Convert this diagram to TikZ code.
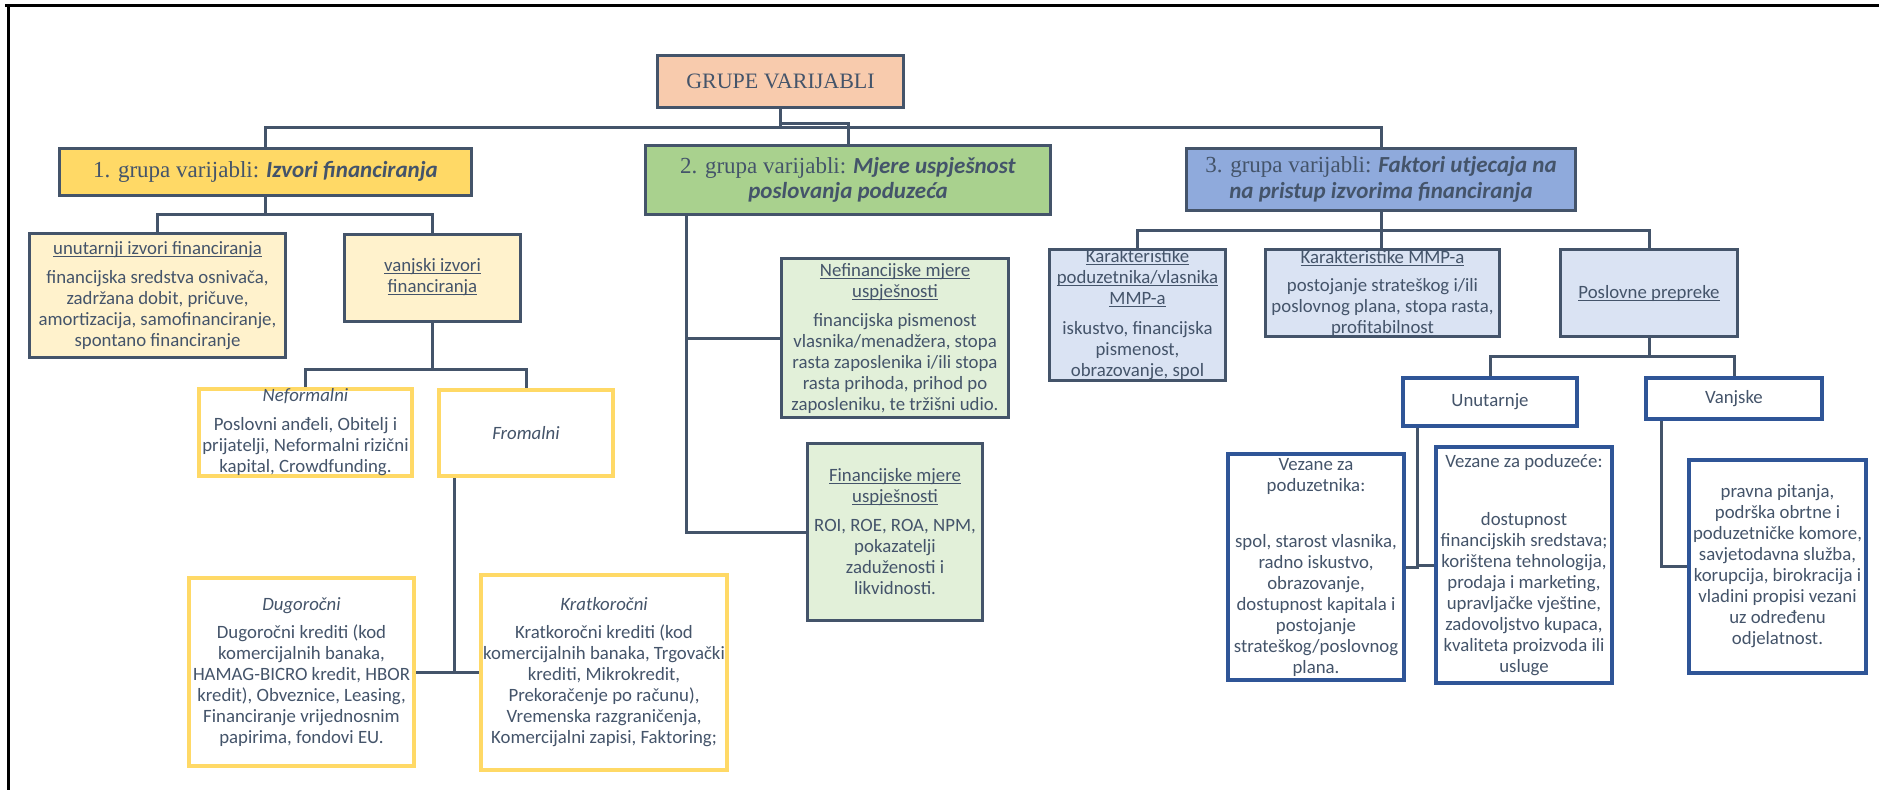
\documentclass[tikz,border=0pt]{standalone}
\usepackage{fontspec}
\setmainfont{Carlito}
\newfontfamily\serif{Liberation Serif}
\usetikzlibrary{calc}
\definecolor{txt}{HTML}{44546A}
\definecolor{bordc}{HTML}{44546A}
\definecolor{peach}{HTML}{F8CBAD}
\definecolor{gold}{HTML}{FFD966}
\definecolor{grn}{HTML}{A9D18E}
\definecolor{blu}{HTML}{8FAADC}
\definecolor{lyel}{HTML}{FFF2CC}
\definecolor{lgrn}{HTML}{E2F0D9}
\definecolor{lblu}{HTML}{DAE3F3}
\definecolor{dblu}{HTML}{2F5597}
\newcommand\myul[1]{\setbox0\hbox{#1}\rlap{\rule[-2.4pt]{\wd0}{0.9pt}}\box0}
\begin{document}
\begin{tikzpicture}[x=1pt,y=-1pt,
  base/.style={inner sep=0pt, align=center, text=txt, font=\fontsize{18.8}{21}\selectfont},
  dbox/.style={base, draw=bordc, line width=3pt},
  gbox/.style={base, draw=gold, line width=4pt, fill=white},
  bbox/.style={base, draw=dblu, line width=4pt, fill=white},
  tbox/.style={dbox, font=\fontsize{23}{25.5}\selectfont},
  conn/.style={draw=bordc, line width=3pt},
  sz/.style n args={2}{minimum width=#1pt, minimum height=#2pt}]
\useasboundingbox (0,0) rectangle (1879,790);
% outer frame
\draw[line width=3pt, black] (5,5) -- (1879,5);
\draw[line width=3pt, black] (8,5) -- (8,790);

% top level
\node[tbox, fill=peach, sz={246}{52}, font=\fontsize{22}{26}\selectfont] (g) at (780.5,81.5) {\serif GRUPE VARIJABLI};
\node[tbox, fill=gold, sz={412}{47}] (g1) at (265.5,172) {{\serif 1. grupa varijabli:} \textbf{\textit{Izvori financiranja}}};
\node[tbox, fill=grn, sz={405}{69}] (g2) at (848,180) {{\serif 2. grupa varijabli:} \textbf{\textit{Mjere uspješnost}}\\ \textbf{\textit{poslovanja poduzeća}}};
\node[tbox, fill=blu, sz={389}{62}] (g3) at (1381,179.5) {{\serif 3. grupa varijabli:} \textbf{\textit{Faktori utjecaja na}}\\ \textbf{\textit{na pristup izvorima financiranja}}};

% group 1
\node[dbox, fill=lyel, sz={256}{124}] (un) at (157.5,295.5) {\myul{unutarnji izvori financiranja}\\[8pt] financijska sredstva osnivača,\\ zadržana dobit, pričuve,\\ amortizacija, samofinanciranje,\\ spontano financiranje};
\node[dbox, fill=lyel, sz={176}{87}] (va) at (432.5,277.5) {\myul{vanjski izvori}\\ \myul{financiranja}};
\node[gbox, sz={213}{87}] (nf) at (305.5,432.5) {\textit{Neformalni}\\[8pt] Poslovni anđeli, Obitelj i\\ prijatelji, Neformalni rizični\\ kapital, Crowdfunding.};
\node[gbox, sz={174}{86}] (fr) at (526,433) {\textit{Fromalni}};
\node[gbox, sz={225}{188}] (dg) at (301.5,672) {\textit{Dugoročni}\\[7pt] Dugoročni krediti (kod\\ komercijalnih banaka,\\ HAMAG-BICRO kredit, HBOR\\ kredit), Obveznice, Leasing,\\ Financiranje vrijednosnim\\ papirima, fondovi EU.};
\node[gbox, sz={246}{195}] (kr) at (604,672.5) {\textit{Kratkoročni}\\[7pt] Kratkoročni krediti (kod\\ komercijalnih banaka, Trgovački\\ krediti, Mikrokredit,\\ Prekoračenje po računu),\\ Vremenska razgraničenja,\\ Komercijalni zapisi, Faktoring;};

% group 2
\node[dbox, fill=lgrn, sz={227}{159}] (nef) at (895,338) {\myul{Nefinancijske mjere}\\ \myul{uspješnosti}\\[8pt] financijska pismenost\\ vlasnika/menadžera, stopa\\ rasta zaposlenika i/ili stopa\\ rasta prihoda, prihod po\\ zaposleniku, te tržišni udio.};
\node[dbox, fill=lgrn, sz={175}{177}] (fin) at (895,532) {\myul{Financijske mjere}\\ \myul{uspješnosti}\\[8pt] ROI, ROE, ROA, NPM,\\ pokazatelji\\ zaduženosti i\\ likvidnosti.};

% group 3
\node[dbox, fill=lblu, sz={176}{131}] (kp) at (1137.5,315) {\myul{Karakteristike}\\ \myul{poduzetnika/vlasnika}\\ \myul{MMP-a}\\[9pt] iskustvo, financijska\\ pismenost,\\ obrazovanje, spol};
\node[dbox, fill=lblu, sz={234}{87}] (km) at (1382.5,293) {\myul{Karakteristike MMP-a}\\[7pt] postojanje strateškog i/ili\\ poslovnog plana, stopa rasta,\\ profitabilnost};
\node[dbox, fill=lblu, sz={177}{87}] (pp) at (1649,293) {\myul{Poslovne prepreke}};
\node[bbox, sz={174}{48}] (unu) at (1490,402) {Unutarnje};
\node[bbox, sz={176}{41}] (vaj) at (1734,398.5) {Vanjske};
\node[bbox, sz={176}{226}] (vp) at (1316,567) {Vezane za\\ poduzetnika:\\[35pt] spol, starost vlasnika,\\ radno iskustvo,\\ obrazovanje,\\ dostupnost kapitala i\\ postojanje\\ strateškog/poslovnog\\ plana.};
\node[bbox, sz={176}{236}] (vd) at (1524,565) {Vezane za poduzeće:\\[37pt] dostupnost\\ financijskih sredstava;\\ korištena tehnologija,\\ prodaja i marketing,\\ upravljačke vještine,\\ zadovoljstvo kupaca,\\ kvaliteta proizvoda ili\\ usluge};
\node[bbox, sz={177}{213}] (pr) at (1777.5,566.5) {pravna pitanja,\\ podrška obrtne i\\ poduzetničke komore,\\ savjetodavna služba,\\ korupcija, birokracija i\\ vladini propisi vezani\\ uz određenu\\ odjelatnost.};

% connectors: top
\draw[conn] (g.south) -- ++(0,18) -| (g1.north);
\draw[conn] (g.south) -- ++(0,18) -| (g3.north);
\draw[conn] (g.south) -- ++(0,14) -| (g2.north);
% group 1
\draw[conn] (g1.south) -- ++(0,17) -| (un.north);
\draw[conn] (g1.south) -- ++(0,17) -| (va.north);
\draw[conn] (va.south) -- ++(0,47) -| (nf.north);
\draw[conn] (va.south) -- ++(0,47) -| (fr.north);
\coordinate (frb) at ($(fr.south west)+(17,0)$);
\draw[conn] (frb) |- (dg.east);
\draw[conn] (frb) |- (kr.west);
% group 2
\coordinate (g2b) at ($(g2.south west)+(42,0)$);
\draw[conn] (g2b) |- (nef.west);
\draw[conn] (g2b) |- (fin.west);
% group 3
\draw[conn] (g3.south) -- ++(0,18) -| (kp.north);
\draw[conn] (g3.south) -- (g3.south |- km.north);
\draw[conn] (g3.south) -- ++(0,18) -| (pp.north);
\draw[conn] (pp.south) -- ++(0,18) -| (unu.north);
\draw[conn] (pp.south) -- ++(0,18) -| (vaj.north);
\coordinate (unb) at ($(unu.south west)+(16,0)$);
\draw[conn] (unb) |- (vp.east);
\draw[conn] (unb) |- (vd.west);
\coordinate (vjb) at ($(vaj.south west)+(17,0)$);
\draw[conn] (vjb) |- (pr.west);
\end{tikzpicture}
\end{document}
